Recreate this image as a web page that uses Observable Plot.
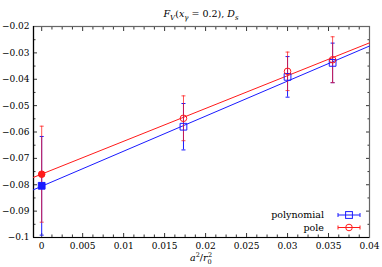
<!DOCTYPE html>
<html><head><meta charset="utf-8">
<script src="https://cdn.jsdelivr.net/npm/d3@7"></script>
<script src="https://cdn.jsdelivr.net/npm/@observablehq/plot@0.6"></script>
<style>body{margin:0;background:#fff} svg{display:block}</style>
</head><body><div id="chart"></div>
<script>
// data
const xValues = [0, 0.0173, 0.0300, 0.0355];
const polyY = [-0.0804, -0.0580, -0.0391, -0.0338];
const polyErr = [0.0187, 0.0088, 0.0077, 0.0075];
const poleY = [-0.0760, -0.0548, -0.0370, -0.0326];
const poleErr = [0.0182, 0.0085, 0.0073, 0.0087];
const fitX = [-0.001, 0.04];
const polyFit = [-0.0819, -0.0274];
const poleFit = [-0.0772, -0.0262];
const xMajor = [0, 0.005, 0.01, 0.015, 0.02, 0.025, 0.03, 0.035, 0.04];
const xTickLabels = ["0", "0.005", "0.01", "0.015", "0.02", "0.025", "0.03", "0.035", "0.04"];
const xMinor = [0.00125,0.0025,0.00375,0.00625,0.0075,0.00875,0.01125,0.0125,0.01375,0.01625,0.0175,0.01875,0.02125,0.0225,0.02375,0.02625,0.0275,0.02875,0.03125,0.0325,0.03375,0.03625,0.0375,0.03875];
const yMajor = [-0.1, -0.09, -0.08, -0.07, -0.06, -0.05, -0.04, -0.03, -0.02];
const yTickLabels = ["−0.1", "−0.09", "−0.08", "−0.07", "−0.06", "−0.05", "−0.04", "−0.03", "−0.02"];
const yMinor = [-0.095, -0.085, -0.075, -0.065, -0.055, -0.045, -0.035, -0.025];
const seriesNames = ["polynomial", "pole"];

const FONT = "DejaVu Serif";
const BLUE = "#1a1aff", RED = "#ff1a1a";
const poly = xValues.map((x, i) => ({x, y: polyY[i], lo: polyY[i] - polyErr[i], hi: polyY[i] + polyErr[i], i}));
const pole = xValues.map((x, i) => ({x, y: poleY[i], lo: poleY[i] - poleErr[i], hi: poleY[i] + poleErr[i], i}));
const polyLine = fitX.map((x, i) => ({x, y: polyFit[i]}));
const poleLine = fitX.map((x, i) => ({x, y: poleFit[i]}));
const caps = (arr) => arr.flatMap(d => [{x: d.x, y: d.lo}, {x: d.x, y: d.hi}]);
const hline = {draw(ctx, size) { const w = Math.sqrt(size / Math.PI); ctx.moveTo(-w, 0); ctx.lineTo(w, 0); }};

const tickOpts = (size) => ({tickSize: -size, fill: "none", label: null, strokeWidth: 0.8});

const plot = Plot.plot({
  width: 382, height: 267,
  marginLeft: 33, marginRight: 13, marginTop: 26, marginBottom: 30,
  style: {fontFamily: FONT, fontSize: "9px", background: "#fff", color: "#000"},
  x: {domain: [-0.001, 0.04]},
  y: {domain: [-0.1, -0.02]},
  marks: [
    Plot.axisX(xMajor, {anchor: "bottom", ...tickOpts(4)}),
    Plot.axisX(xMinor, {anchor: "bottom", ...tickOpts(2.5)}),
    Plot.axisX(xMajor, {anchor: "top", ...tickOpts(4)}),
    Plot.axisX(xMinor, {anchor: "top", ...tickOpts(2.5)}),
    Plot.axisY(yMajor, {anchor: "left", ...tickOpts(4)}),
    Plot.axisY(yMinor, {anchor: "left", ...tickOpts(2.5)}),
    Plot.axisY(yMajor, {anchor: "right", ...tickOpts(4)}),
    Plot.axisY(yMinor, {anchor: "right", ...tickOpts(2.5)}),
    Plot.axisX(xMajor, {anchor: "bottom", tickSize: 0, tickPadding: 5, label: null, fontFamily: FONT, tickFormat: d => xTickLabels[xMajor.indexOf(d)]}),
    Plot.axisY(yMajor, {anchor: "left", tickSize: 0, tickPadding: 4, label: null, fontFamily: FONT, tickFormat: d => yTickLabels[yMajor.indexOf(d)]}),
    Plot.frame({stroke: "#666", strokeWidth: 1.2}),
    Plot.ruleX([-0.001], {stroke: "#000", strokeWidth: 1.2}),
    Plot.ruleY([-0.1], {stroke: "#000", strokeWidth: 1.2}),
    Plot.line(polyLine, {x: "x", y: "y", stroke: BLUE, strokeWidth: 1}),
    Plot.line(poleLine, {x: "x", y: "y", stroke: RED, strokeWidth: 1}),
    Plot.ruleX(poly, {x: "x", y1: "lo", y2: "hi", stroke: BLUE, strokeWidth: 1}),
    Plot.dot(caps(poly), {x: "x", y: "y", symbol: hline, r: 2, stroke: BLUE, strokeWidth: 1}),
    Plot.ruleX(pole, {x: "x", y1: "lo", y2: "hi", stroke: RED, strokeWidth: 1, strokeOpacity: 0.75}),
    Plot.dot(caps(pole), {x: "x", y: "y", symbol: hline, r: 2, stroke: RED, strokeWidth: 1, strokeOpacity: 0.75}),
    Plot.dot(poly, {x: "x", y: "y", symbol: "square", r: 3.8, stroke: BLUE, strokeWidth: 1, fill: d => d.i === 0 ? BLUE : "none"}),
    Plot.dot(pole, {x: "x", y: "y", symbol: "circle", r: 3.3, stroke: RED, strokeWidth: 1, fill: d => d.i === 0 ? RED : "none"})
  ]
});
document.getElementById("chart").appendChild(plot);

const svg = d3.select(plot);
// title
const t = svg.append("text").attr("x", 201).attr("y", 17).attr("text-anchor", "middle")
  .attr("font-family", FONT).attr("font-size", 9.5).attr("fill", "#000");
t.append("tspan").attr("font-style", "italic").text("F");
t.append("tspan").attr("font-style", "italic").attr("font-size", 7).attr("dy", 2.5).text("V");
t.append("tspan").attr("dy", -2.5).text("(");
t.append("tspan").attr("font-style", "italic").text("x");
t.append("tspan").attr("font-style", "italic").attr("font-size", 7).attr("dy", 2.5).text("γ");
t.append("tspan").attr("dy", -2.5).text(" = 0.2), ");
t.append("tspan").attr("font-style", "italic").text("D");
t.append("tspan").attr("font-style", "italic").attr("font-size", 7).attr("dy", 2.5).text("s");

// x label
const xl = svg.append("text").attr("x", 201).attr("y", 261).attr("text-anchor", "middle")
  .attr("font-family", FONT).attr("font-size", 9.5).attr("fill", "#000");
xl.append("tspan").attr("font-style", "italic").text("a");
xl.append("tspan").attr("font-size", 6.5).attr("dy", -4).text("2");
xl.append("tspan").attr("dy", 4).text("/");
xl.append("tspan").attr("font-style", "italic").text("r");
xl.append("tspan").attr("font-size", 6.5).attr("dy", 2.5).text("0");
xl.append("tspan").attr("font-size", 6.5).attr("dx", -3.8).attr("dy", -7).text("2");

// legend
const colors = [BLUE, RED];
seriesNames.forEach((name, k) => {
  const y = 215 + k * 12.5;
  const g = svg.append("g");
  g.append("text").attr("x", 324).attr("y", y).attr("dy", "0.35em").attr("text-anchor", "end")
    .attr("font-family", FONT).attr("font-size", 9.5).attr("fill", "#000").text(name);
  g.append("line").attr("x1", 338).attr("x2", 360).attr("y1", y).attr("y2", y).attr("stroke", colors[k]);
  g.append("line").attr("x1", 338).attr("x2", 338).attr("y1", y - 2).attr("y2", y + 2).attr("stroke", colors[k]);
  g.append("line").attr("x1", 360).attr("x2", 360).attr("y1", y - 2).attr("y2", y + 2).attr("stroke", colors[k]);
  if (k === 0) g.append("rect").attr("x", 345.6).attr("y", y - 3.4).attr("width", 6.8).attr("height", 6.8).attr("fill", "none").attr("stroke", colors[k]);
  else g.append("circle").attr("cx", 349).attr("cy", y).attr("r", 3.3).attr("fill", "none").attr("stroke", colors[k]);
});
</script></body></html>
